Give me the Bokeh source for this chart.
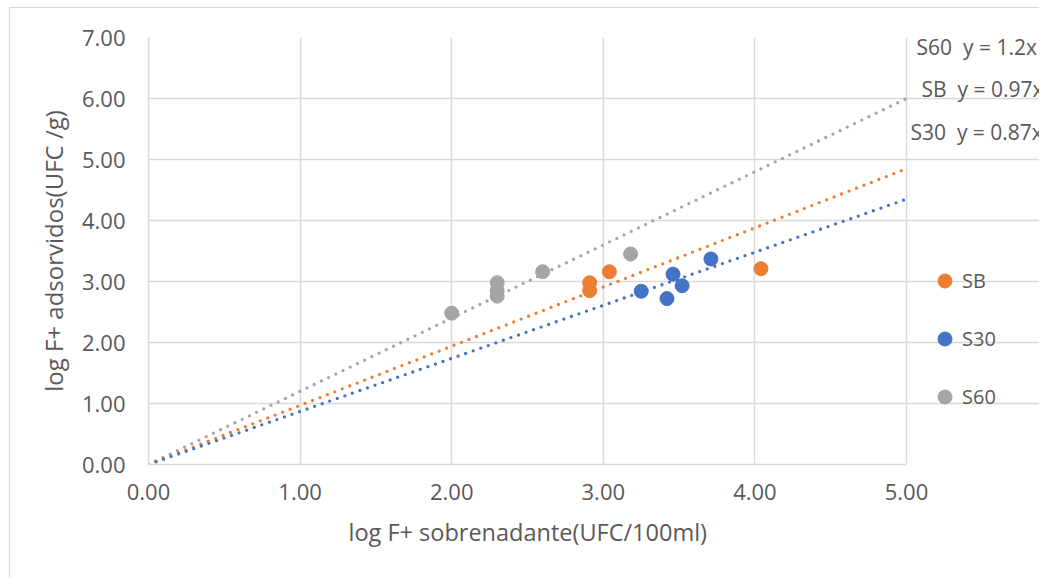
from bokeh.plotting import figure
from bokeh.models import (Legend, LegendItem, Label, FixedTicker, Title,
                          NumeralTickFormatter, Range1d)
from bokeh.embed import file_html
from bokeh.resources import INLINE
import numpy as np

# ---- data ----
sb_x = [2.91, 2.91, 3.04, 4.04]
sb_y = [2.85, 2.98, 3.16, 3.21]
s30_x = [3.25, 3.42, 3.46, 3.52, 3.71]
s30_y = [2.84, 2.72, 3.12, 2.93, 3.37]
s60_x = [2.00, 2.30, 2.30, 2.30, 2.60, 3.18]
s60_y = [2.48, 2.98, 2.85, 2.76, 3.16, 3.45]
slopes = {"SB": 0.97, "S30": 0.87, "S60": 1.2}
NB = "\u00a0"
trend_labels = {"S60": "S60" + NB + " y = 1.2x",
                "SB": "SB" + NB + " y = 0.97x",
                "S30": "S30" + NB + " y = 0.87x"}
x_ticks = [0, 1, 2, 3, 4, 5]
y_ticks = [0, 1, 2, 3, 4, 5, 6, 7]
x_title = "log F+ sobrenadante(UFC/100ml)"
y_title = "log F+ adsorvidos(UFC /g)"
X_MAX, Y_MAX = 5, 7

ORANGE = "#ED7D31"
BLUE = "#4472C4"
GREY = "#A5A5A5"
FONT = "Open Sans"
TXT = "#595959"

# frame spans x 0..5 over 758 px, then extends to the canvas edge (for labels / legend)
x_end = X_MAX * 892 / 758

p = figure(width=1030, height=570, output_backend="svg", toolbar_location=None,
           x_range=Range1d(0, x_end), y_range=Range1d(0, Y_MAX),
           min_border_left=138, min_border_right=0, min_border_top=29, min_border_bottom=114)
p.margin = (7, 0, 0, 9)
p.styles = {"border-left": "1px solid #D9D9D9", "border-top": "1px solid #D9D9D9"}
p.outline_line_color = None
p.background_fill_color = "white"
p.border_fill_color = "white"

for ax in (p.xaxis[0], p.yaxis[0]):
    ax.axis_line_color = "#D9D9D9"
    ax.axis_line_width = 1.5
    ax.major_tick_line_color = None
    ax.minor_tick_line_color = None
    ax.major_tick_out = 0
    ax.major_tick_in = 0
    ax.major_label_text_font = FONT
    ax.major_label_text_font_size = "22px"
    ax.major_label_text_color = TXT
    ax.axis_label_text_font = FONT
    ax.axis_label_text_font_size = "24px"
    ax.axis_label_text_color = TXT
    ax.axis_label_text_font_style = "normal"
    ax.formatter = NumeralTickFormatter(format="0.00")

p.xaxis.ticker = FixedTicker(ticks=x_ticks)
p.yaxis.ticker = FixedTicker(ticks=y_ticks)
p.xaxis.bounds = (0, X_MAX)
p.yaxis.axis_label = y_title
p.xaxis.major_label_standoff = 19
p.yaxis.major_label_standoff = 23
p.yaxis.axis_label_standoff = 9

# x-axis title, centred under the 0..5 part of the axis
p.add_layout(Title(text=x_title, align="left", offset=200, standoff=23,
                   text_font=FONT, text_font_size="23.5px", text_font_style="normal",
                   text_color=TXT), "below")

p.xgrid.ticker = FixedTicker(ticks=x_ticks)
p.ygrid.ticker = FixedTicker(ticks=y_ticks)
p.ygrid.bounds = (0, X_MAX)
p.xgrid.grid_line_color = "#D9D9D9"
p.ygrid.grid_line_color = "#D9D9D9"
p.xgrid.grid_line_width = 1.5
p.ygrid.grid_line_width = 1.5

# trendlines
lx = np.array([0.0, X_MAX])
for name, col in (("S60", GREY), ("SB", ORANGE), ("S30", BLUE)):
    p.line(lx, slopes[name] * lx, line_color=col, line_width=3.3, line_dash="0 8",
           line_cap="round")

r_sb = p.scatter(sb_x, sb_y, size=14, color=ORANGE)
r_s30 = p.scatter(s30_x, s30_y, size=14, color=BLUE)
r_s60 = p.scatter(s60_x, s60_y, size=14, color=GREY)

# trendline labels
for name, (tx, ty) in {"S60": (5.066, 6.852), "SB": (5.099, 6.148), "S30": (5.026, 5.443)}.items():
    p.add_layout(Label(x=tx, y=ty, text=trend_labels[name], text_font=FONT,
                       text_font_size="21px", text_color=TXT, text_baseline="middle"))

legend = Legend(items=[LegendItem(label="SB", renderers=[r_sb]),
                       LegendItem(label="S30", renderers=[r_s30]),
                       LegendItem(label="S60", renderers=[r_s60])],
                location=(779, 50), orientation="vertical",
                glyph_width=35, glyph_height=35, label_height=35, spacing=23,
                label_standoff=0, padding=0, margin=0,
                border_line_color=None, background_fill_alpha=0,
                label_text_font=FONT, label_text_font_size="20px", label_text_color=TXT)
p.add_layout(legend, "center")

open("out.html", "w").write(file_html(p, INLINE))
